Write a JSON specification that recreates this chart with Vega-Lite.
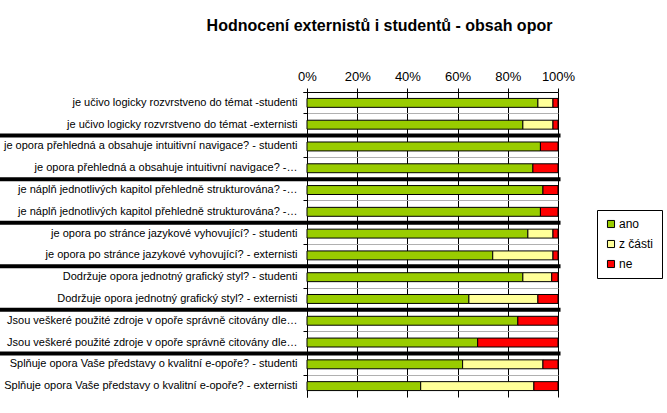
{
  "$schema": "https://vega.github.io/schema/vega-lite/v6.json",
  "autosize": {"type": "none"},
  "padding": {"left": 307, "top": 92, "right": 110, "bottom": 16},
  "width": 251,
  "height": 305,
  "background": "white",
  "config": {
    "font": "Liberation Sans",
    "view": {"stroke": null}
  },
  "title": {
    "text": "Hodnocení externistů i studentů - obsah opor",
    "font": "Liberation Sans",
    "fontSize": 16,
    "fontWeight": "bold",
    "color": "black",
    "anchor": "middle",
    "frame": "group",
    "dx": -53,
    "offset": 36
  },
  "data": {
    "values": [
      {"q": "je učivo logicky rozvrstveno do témat -studenti", "pair": 1, "who": "studenti", "cat": "ano", "k": 1, "v": 92},
      {"q": "je učivo logicky rozvrstveno do témat -studenti", "pair": 1, "who": "studenti", "cat": "z části", "k": 2, "v": 6},
      {"q": "je učivo logicky rozvrstveno do témat -studenti", "pair": 1, "who": "studenti", "cat": "ne", "k": 3, "v": 2},
      {"q": "je učivo logicky rozvrstveno do témat -externisti", "pair": 1, "who": "externisti", "cat": "ano", "k": 1, "v": 86},
      {"q": "je učivo logicky rozvrstveno do témat -externisti", "pair": 1, "who": "externisti", "cat": "z části", "k": 2, "v": 12},
      {"q": "je učivo logicky rozvrstveno do témat -externisti", "pair": 1, "who": "externisti", "cat": "ne", "k": 3, "v": 2},
      {"q": "je opora přehledná a obsahuje intuitivní navigace? - studenti", "pair": 2, "who": "studenti", "cat": "ano", "k": 1, "v": 93},
      {"q": "je opora přehledná a obsahuje intuitivní navigace? - studenti", "pair": 2, "who": "studenti", "cat": "ne", "k": 3, "v": 7},
      {"q": "je opora přehledná a obsahuje intuitivní navigace? -…", "pair": 2, "who": "externisti", "cat": "ano", "k": 1, "v": 90},
      {"q": "je opora přehledná a obsahuje intuitivní navigace? -…", "pair": 2, "who": "externisti", "cat": "ne", "k": 3, "v": 10},
      {"q": "je náplň jednotlivých kapitol přehledně strukturována? -…", "pair": 3, "who": "studenti", "cat": "ano", "k": 1, "v": 94},
      {"q": "je náplň jednotlivých kapitol přehledně strukturována? -…", "pair": 3, "who": "studenti", "cat": "ne", "k": 3, "v": 6},
      {"q": "je náplň jednotlivých kapitol přehledně strukturována? -…\u200b", "pair": 3, "who": "externisti", "cat": "ano", "k": 1, "v": 93},
      {"q": "je náplň jednotlivých kapitol přehledně strukturována? -…\u200b", "pair": 3, "who": "externisti", "cat": "ne", "k": 3, "v": 7},
      {"q": "je opora po stránce jazykové vyhovující? - studenti", "pair": 4, "who": "studenti", "cat": "ano", "k": 1, "v": 88},
      {"q": "je opora po stránce jazykové vyhovující? - studenti", "pair": 4, "who": "studenti", "cat": "z části", "k": 2, "v": 10},
      {"q": "je opora po stránce jazykové vyhovující? - studenti", "pair": 4, "who": "studenti", "cat": "ne", "k": 3, "v": 2},
      {"q": "je opora po stránce jazykové vyhovující? - externisti", "pair": 4, "who": "externisti", "cat": "ano", "k": 1, "v": 74},
      {"q": "je opora po stránce jazykové vyhovující? - externisti", "pair": 4, "who": "externisti", "cat": "z části", "k": 2, "v": 24},
      {"q": "je opora po stránce jazykové vyhovující? - externisti", "pair": 4, "who": "externisti", "cat": "ne", "k": 3, "v": 2},
      {"q": "Dodržuje opora jednotný grafický styl? - studenti", "pair": 5, "who": "studenti", "cat": "ano", "k": 1, "v": 86},
      {"q": "Dodržuje opora jednotný grafický styl? - studenti", "pair": 5, "who": "studenti", "cat": "z části", "k": 2, "v": 11.5},
      {"q": "Dodržuje opora jednotný grafický styl? - studenti", "pair": 5, "who": "studenti", "cat": "ne", "k": 3, "v": 2.5},
      {"q": "Dodržuje opora jednotný grafický styl? - externisti", "pair": 5, "who": "externisti", "cat": "ano", "k": 1, "v": 64.5},
      {"q": "Dodržuje opora jednotný grafický styl? - externisti", "pair": 5, "who": "externisti", "cat": "z části", "k": 2, "v": 27.5},
      {"q": "Dodržuje opora jednotný grafický styl? - externisti", "pair": 5, "who": "externisti", "cat": "ne", "k": 3, "v": 8},
      {"q": "Jsou veškeré použité zdroje v opoře správně citovány dle…", "pair": 6, "who": "studenti", "cat": "ano", "k": 1, "v": 84},
      {"q": "Jsou veškeré použité zdroje v opoře správně citovány dle…", "pair": 6, "who": "studenti", "cat": "ne", "k": 3, "v": 16},
      {"q": "Jsou veškeré použité zdroje v opoře správně citovány dle…\u200b", "pair": 6, "who": "externisti", "cat": "ano", "k": 1, "v": 68},
      {"q": "Jsou veškeré použité zdroje v opoře správně citovány dle…\u200b", "pair": 6, "who": "externisti", "cat": "ne", "k": 3, "v": 32},
      {"q": "Splňuje opora Vaše představy o kvalitní e-opoře? - studenti", "pair": 7, "who": "studenti", "cat": "ano", "k": 1, "v": 62},
      {"q": "Splňuje opora Vaše představy o kvalitní e-opoře? - studenti", "pair": 7, "who": "studenti", "cat": "z části", "k": 2, "v": 32},
      {"q": "Splňuje opora Vaše představy o kvalitní e-opoře? - studenti", "pair": 7, "who": "studenti", "cat": "ne", "k": 3, "v": 6},
      {"q": "Splňuje opora Vaše představy o kvalitní e-opoře? - externisti", "pair": 7, "who": "externisti", "cat": "ano", "k": 1, "v": 45.3},
      {"q": "Splňuje opora Vaše představy o kvalitní e-opoře? - externisti", "pair": 7, "who": "externisti", "cat": "z části", "k": 2, "v": 45.1},
      {"q": "Splňuje opora Vaše představy o kvalitní e-opoře? - externisti", "pair": 7, "who": "externisti", "cat": "ne", "k": 3, "v": 9.6}
    ]
  },
  "encoding": {
    "y": {
      "field": "q",
      "type": "nominal",
      "sort": null,
      "scale": {"paddingInner": 0, "paddingOuter": 0},
      "axis": {
        "title": null,
        "bandPosition": 0,
        "tickExtra": true,
        "grid": true,
        "gridColor": "#b0b0b0",
        "gridWidth": 1,
        "domainColor": "black",
        "tickColor": "black",
        "tickSize": 4,
        "labelFontSize": 11,
        "labelColor": "black",
        "labelPadding": 6,
        "labelLimit": 400
      }
    }
  },
  "layer": [
    {
      "mark": {"type": "bar", "height": {"band": 0.41}, "stroke": "black", "strokeWidth": 1},
      "encoding": {
        "x": {
          "field": "v",
          "type": "quantitative",
          "stack": "normalize",
          "scale": {"domain": [0, 1], "nice": false},
          "axis": {
            "orient": "top",
            "title": null,
            "format": ".0%",
            "values": [0, 0.2, 0.4, 0.6, 0.8, 1],
            "grid": true,
            "gridColor": "black",
            "gridOpacity": 1,
            "domainColor": "black",
            "tickColor": "black",
            "tickSize": 4,
            "labelFontSize": 13,
            "labelColor": "black",
            "labelPadding": 5,
            "labelFlush": false
          }
        },
        "color": {
          "field": "cat",
          "type": "nominal",
          "scale": {"domain": ["ano", "z části", "ne"], "range": ["#99CC00", "#FFFF99", "#FF0000"]},
          "legend": {
            "title": null,
            "orient": "none",
            "legendX": 290,
            "legendY": 118,
            "strokeColor": "black",
            "fillColor": "white",
            "padding": 8,
            "symbolType": "square",
            "symbolSize": 50,
            "symbolStrokeColor": "black",
            "symbolStrokeWidth": 1,
            "symbolOpacity": 1,
            "labelFontSize": 12,
            "labelColor": "black",
            "labelOffset": 2,
            "rowPadding": 8
          }
        },
        "order": {"field": "k", "type": "quantitative"}
      }
    },
    {
      "transform": [{"filter": "datum.who === 'studenti' && datum.pair > 1 && datum.k === 1"}],
      "mark": {"type": "rule", "color": "black", "strokeWidth": 4, "clip": false},
      "encoding": {
        "y": {"field": "q", "type": "nominal", "sort": null, "bandPosition": 0},
        "x": {"datum": -1.224, "type": "quantitative"},
        "x2": {"datum": 1.01}
      }
    }
  ]
}
